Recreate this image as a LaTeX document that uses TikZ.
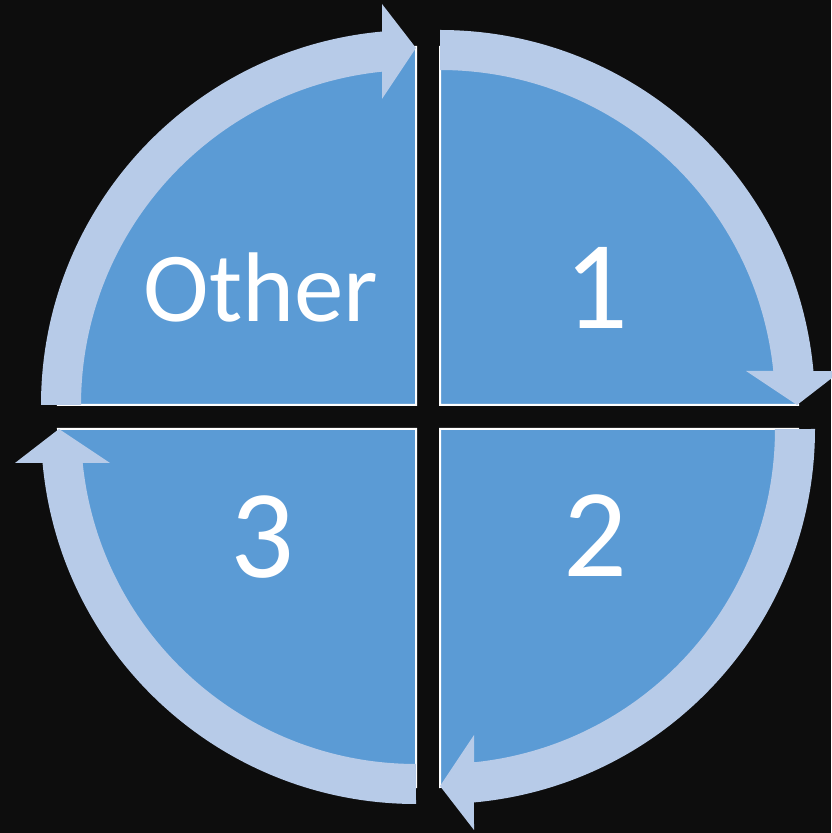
\documentclass[tikz,border=0pt]{standalone}
\usepackage{fontspec}
\setmainfont{Carlito}
\definecolor{bgc}{HTML}{0D0D0D}
\definecolor{piec}{HTML}{5B9BD5}
\definecolor{bandc}{HTML}{B7CBE8}
\tikzset{
  quad/.style={fill=piec, draw=white, line width=2pt},
  cyc/.style={fill=bandc, draw=none},
  lbl/.style={text=white, anchor=base, inner sep=0pt},
}
\newcommand{\cycarrow}[3]{%
  \begin{scope}[shift={(#1,#2)}, rotate=#3]
    \path[cyc] (90:375) arc[start angle=90, end angle=5.2, radius=375]
      -- (401,34) -- (357,0) -- (306,34) -- (333.3,34)
      arc[start angle=5.83, end angle=90, radius=335] -- cycle;
  \end{scope}}
\begin{document}
\begin{tikzpicture}[x=1pt,y=1pt]
\path[fill=bgc] (0,0) rectangle (831,833);
\useasboundingbox (0,0) rectangle (831,833);
% quadrants
\path[quad] (440,428) -- ++(0:358) arc[start angle=0, end angle=90, radius=358] -- cycle;
\path[quad] (416,428) -- ++(90:358) arc[start angle=90, end angle=180, radius=358] -- cycle;
\path[quad] (416,404) -- ++(180:358) arc[start angle=180, end angle=270, radius=358] -- cycle;
\path[quad] (440,404) -- ++(270:358) arc[start angle=270, end angle=360, radius=358] -- cycle;
% arrows
\cycarrow{440}{428}{0}
\cycarrow{416}{428}{90}
\cycarrow{416}{404}{180}
\cycarrow{440}{404}{270}
% labels
\node[lbl, font=\fontsize{99}{99}\selectfont] (other) at (261,511) {Other};
\node[lbl, font=\fontsize{126}{126}\selectfont] (one) at (596,504) {1};
\node[lbl, font=\fontsize{126}{126}\selectfont] (two) at (595,256) {2};
\node[lbl, font=\fontsize{126}{126}\selectfont] (three) at (262,255) {3};
\end{tikzpicture}
\end{document}
